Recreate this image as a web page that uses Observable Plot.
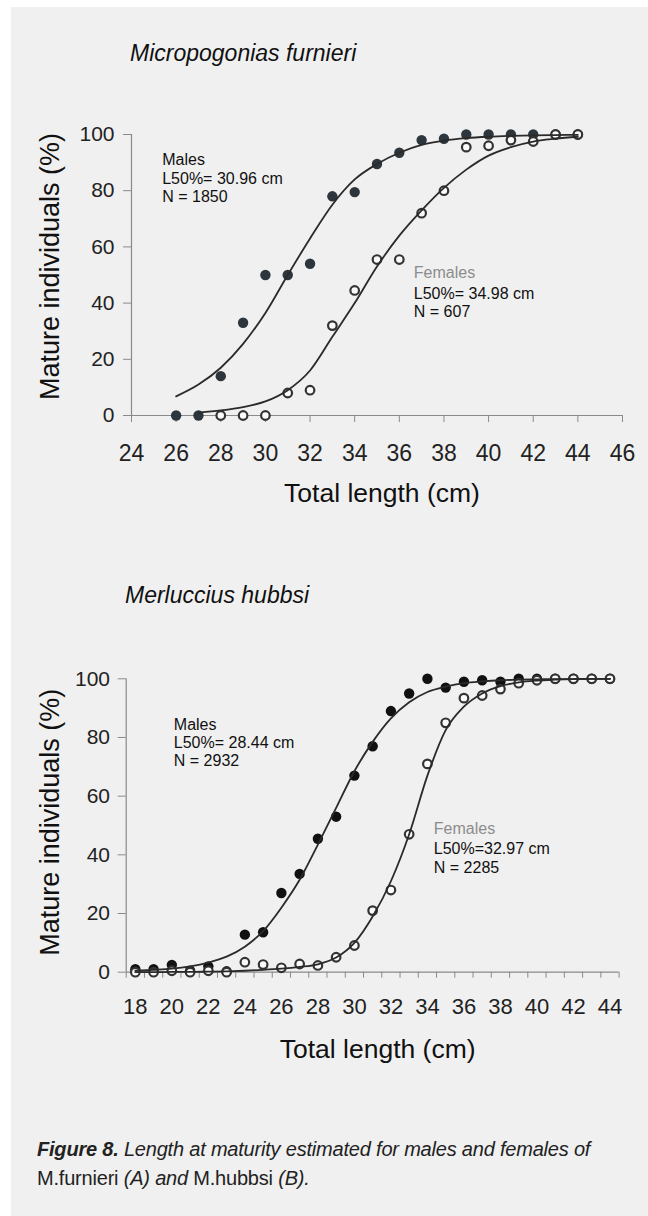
<!DOCTYPE html>
<html><head><meta charset="utf-8">
<script src="https://cdn.jsdelivr.net/npm/d3@7"></script>
<script src="https://cdn.jsdelivr.net/npm/@observablehq/plot@0.6"></script>
<style>
html,body{margin:0;padding:0;background:#fff;width:648px;height:1216px;overflow:hidden;font-family:"Liberation Sans",Arial,sans-serif;}
#panel{position:absolute;left:11px;top:7px;width:637px;height:1209px;background:#f0f0f0;}
.title{position:absolute;font-style:italic;font-size:23px;color:#111;line-height:23px;white-space:nowrap;}
#chartA{position:absolute;left:0;top:100px;}
#chartB{position:absolute;left:0;top:640px;}
.cap{position:absolute;left:37px;top:1135px;font-size:20px;letter-spacing:-0.2px;line-height:28.5px;color:#222;white-space:nowrap;}
</style></head>
<body>
<div id="panel"></div>
<div class="title" style="left:130px;top:41.5px">Micropogonias furnieri</div>
<div id="chartA"></div>
<div class="title" style="left:125px;top:584px">Merluccius hubbsi</div>
<div id="chartB"></div>
<div class="cap"><b><i>Figure 8.</i></b><i> Length at maturity estimated for males and females of</i><br>M.furnieri <i>(A) and</i> M.hubbsi <i>(B).</i></div>
<script>
// ---------- Chart A: Micropogonias furnieri ----------
const xTicksA = [24, 26, 28, 30, 32, 34, 36, 38, 40, 42, 44, 46];
const yTicks = [0, 20, 40, 60, 80, 100];
const lengthsMaleA = [26, 27, 28, 29, 30, 31, 32, 33, 34, 35, 36, 37, 38, 39, 40, 41, 42, 43, 44];
const malesA =       [0, 0, 14, 33, 50, 50, 54, 78, 79.5, 89.5, 93.5, 98, 98.5, 100, 100, 100, 100, 100, 100];
const lengthsFemaleA = [28, 29, 30, 31, 32, 33, 34, 35, 36, 37, 38, 39, 40, 41, 42, 43, 44];
const femalesA =       [0, 0, 0, 8, 9, 32, 44.5, 55.5, 55.5, 72, 80, 95.5, 96, 98, 97.5, 100, 100];
const fitLenMaleA = [26, 27, 28, 29, 30, 31, 32, 33, 34, 35, 36, 37, 38, 39, 40, 41, 42, 43, 44];
const fitMaleA =    [6.8, 11, 17, 25.5, 36.5, 50, 63, 75, 84, 89.5, 93.5, 96.3, 97.8, 98.7, 99.2, 99.5, 99.7, 99.8, 99.9];
const fitLenFemaleA = [27, 28, 29, 30, 31, 32, 33, 34, 35, 36, 37, 38, 39, 40, 41, 42, 43, 44];
const fitFemaleA =    [1, 1.8, 3, 5, 9, 16, 28, 40, 53, 64, 73, 81, 87.5, 92.5, 95.5, 97.5, 98.5, 99.2];
const annotA = ["Males\nL50%= 30.96 cm\nN = 1850", "Females", "L50%= 34.98 cm\nN = 607"];

// ---------- Chart B: Merluccius hubbsi ----------
const xLabelsB = [18, 20, 22, 24, 26, 28, 30, 32, 34, 36, 38, 40, 42, 44];
const xMinorB = [17.5, 18.5, 19.5, 20.5, 21.5, 22.5, 23.5, 24.5, 25.5, 26.5, 27.5, 28.5, 29.5, 30.5, 31.5, 32.5, 33.5, 34.5, 35.5, 36.5, 37.5, 38.5, 39.5, 40.5, 41.5, 42.5, 43.5, 44.5];
const lengthsB = [18, 19, 20, 21, 22, 23, 24, 25, 26, 27, 28, 29, 30, 31, 32, 33, 34, 35, 36, 37, 38, 39, 40, 41, 42, 43, 44];
const malesB =   [1, 1, 2.5, 0.5, 2, 0.3, 12.8, 13.6, 27, 33.5, 45.5, 53, 67, 77, 89, 95, 100, 97, 99, 99.5, 99, 100, 100, 100, 100, 100, 100];
const femalesB = [0, 0, 0.5, 0, 0.5, 0, 3.4, 2.6, 1.5, 2.8, 2.3, 5.1, 9.1, 21, 28, 47, 71, 85, 93.4, 94.3, 96.5, 98.5, 99.5, 100, 100, 100, 100];
const fitMaleB =   [0.5, 0.8, 1.2, 2, 3.3, 5.3, 8.7, 14, 22, 31.5, 43.5, 56, 68.5, 78.5, 86.5, 92, 95.5, 97.3, 98.5, 99.1, 99.5, 99.7, 99.8, 99.9, 99.9, 100, 100];
const fitFemaleB = [0, 0, 0.1, 0.1, 0.2, 0.3, 0.5, 0.8, 1.2, 1.8, 2.7, 5, 10, 19, 31, 47, 67, 82.5, 90.5, 95, 97.5, 98.8, 99.4, 99.7, 99.9, 100, 100];
const annotB = ["Males\nL50%= 28.44 cm\nN = 2932", "Females", "L50%=32.97 cm\nN = 2285"];

const yTitle = "Mature individuals (%)";
const xTitle = "Total length (cm)";

const pts = (xs, ys) => xs.map((x, i) => ({x, y: ys[i]}));
const FONT = '"Liberation Sans", Arial, sans-serif';
const NARROW = '"Liberation Sans Narrow", "Arial Narrow", "Liberation Sans", Arial, sans-serif';

function chart(o) {
  return Plot.plot({
    width: 648, height: o.height,
    marginLeft: o.ml, marginRight: o.mr, marginTop: o.mt, marginBottom: o.mb,
    style: {background: "transparent", fontFamily: FONT, color: "#222", overflow: "visible"},
    x: {domain: o.xDomain},
    y: {domain: [0, 100]},
    marks: [
      Plot.ruleY([0], {stroke: "#8a8a8a", strokeWidth: 1.2}),
      Plot.ruleX([o.xDomain[0]], {stroke: "#8a8a8a", strokeWidth: 1.2}),
      ...(o.minor ? [Plot.axisX({ticks: o.minor, tickSize: 6, tickFormat: () => "", stroke: "#8a8a8a", label: null})] : []),
      Plot.axisX({ticks: o.xTicks, tickSize: o.minor ? 0 : 7, tickPadding: o.xPad, fontSize: o.xFont, fontFamily: NARROW, stroke: "#8a8a8a", fill: "#222", label: null}),
      Plot.axisY({ticks: yTicks, tickSize: 8, tickPadding: o.yPad, fontSize: 21, stroke: "#8a8a8a", fill: "#222", label: null}),
      Plot.dot(o.males, {x: "x", y: "y", r: 5.2, fill: o.dotColor, stroke: "none"}),
      Plot.dot(o.females, {x: "x", y: "y", r: 4.3, fill: "#fbfbfb", stroke: "#333", strokeWidth: 2.2}),
      Plot.line(o.fitM, {x: "x", y: "y", curve: "monotone-x", stroke: "#2a2a2a", strokeWidth: 1.8}),
      Plot.line(o.fitF, {x: "x", y: "y", curve: "monotone-x", stroke: "#2a2a2a", strokeWidth: 1.8}),
      Plot.text([o.annot[0]], {frameAnchor: "top-left", dx: o.mDx, dy: o.mDy, textAnchor: "start", lineAnchor: "top", fontSize: 16, lineHeight: 1.14, fill: "#111"}),
      Plot.text([o.annot[1]], {frameAnchor: "top-left", dx: o.fDx, dy: o.fDy, textAnchor: "start", lineAnchor: "top", fontSize: 16, fill: "#8c8c8c"}),
      Plot.text([o.annot[2]], {frameAnchor: "top-left", dx: o.fDx, dy: o.fDy2, textAnchor: "start", lineAnchor: "top", fontSize: 16, lineHeight: o.fLh, fill: "#111"}),
      Plot.text([xTitle], {frameAnchor: "bottom", dx: 5, dy: o.xtDy, lineAnchor: "bottom", fontSize: 26.5, fill: "#111"}),
      Plot.text([yTitle], {frameAnchor: "left", dx: o.ytDx, dy: o.ytDy, rotate: -90, lineAnchor: "bottom", textAnchor: "middle", fontSize: 27, fill: "#111"})
    ]
  });
}

document.getElementById("chartA").append(chart({
  height: 420, ml: 131, mr: 26, mt: 34, mb: 105,
  xDomain: [24, 46], xTicks: xTicksA, xPad: 22, xFont: 23, yPad: 9,
  males: pts(lengthsMaleA, malesA), females: pts(lengthsFemaleA, femalesA),
  fitM: pts(fitLenMaleA, fitMaleA), fitF: pts(fitLenFemaleA, fitFemaleA),
  dotColor: "#2d363c", annot: annotA,
  mDx: 30.7, mDy: 17.9, fDx: 282.3, fDy: 131.9, fDy2: 151.3, fLh: 1.14,
  xtDy: 86, ytDx: -73, ytDy: -8.5
}));

document.getElementById("chartB").append(chart({
  height: 440, ml: 125.7, mr: 29.4, mt: 38.3, mb: 108.3,
  xDomain: [17.5, 44.5], xTicks: xLabelsB, minor: xMinorB, xPad: 26, xFont: 22, yPad: 8.2,
  males: pts(lengthsB, malesB), females: pts(lengthsB, femalesB),
  fitM: pts(lengthsB, fitMaleB), fitF: pts(lengthsB, fitFemaleB),
  dotColor: "#111", annot: annotB,
  mDx: 47.6, mDy: 38, fDx: 307.6, fDy: 144.3, fDy2: 162, fLh: 1.19,
  xtDy: 85.3, ytDx: -67.7, ytDy: -3.3
}));
</script>
</body></html>
